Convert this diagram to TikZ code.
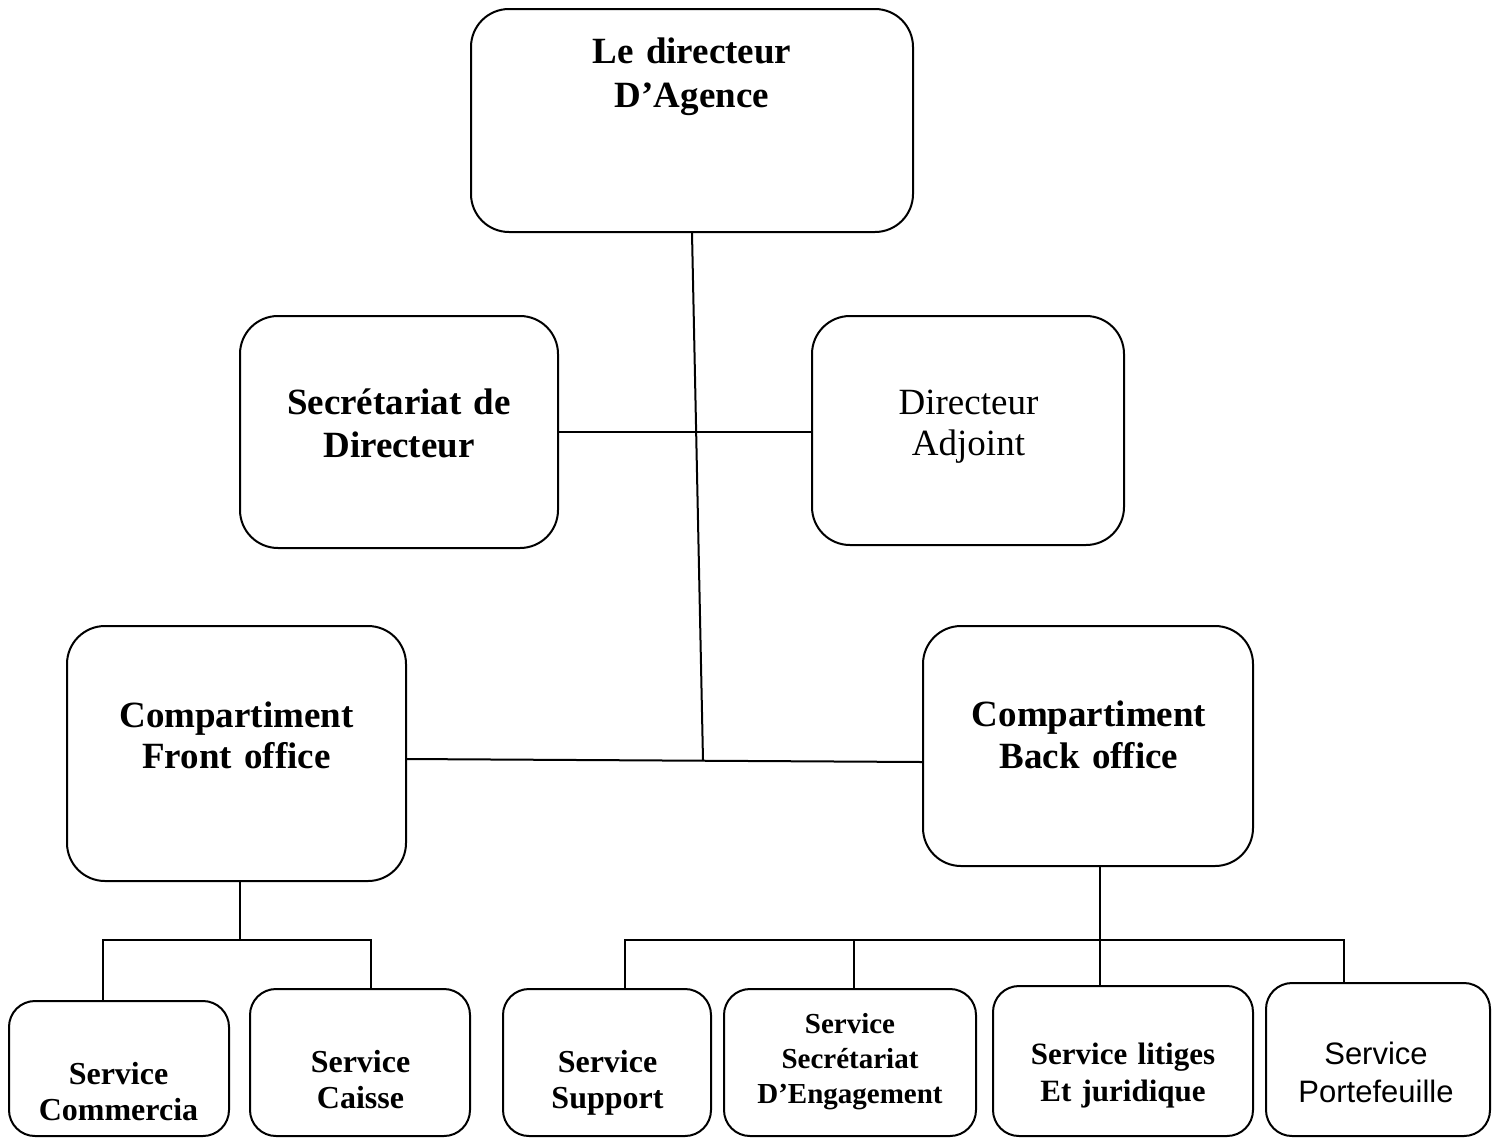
\documentclass[tikz,border=0pt]{standalone}
\usepackage{fontspec}
\setmainfont{Liberation Serif}
\newfontfamily\arialfont{Liberation Sans}
\begin{document}
\begin{tikzpicture}[x=1pt,y=-1pt,
  bigbox/.style={draw,line width=2pt,rounded corners=38pt,inner sep=0pt},
  smallbox/.style={draw,line width=2pt,rounded corners=26pt,inner sep=0pt},
  lbl/.style={anchor=base,inner sep=0pt,align=center},
  conn/.style={line width=2pt}]
\useasboundingbox (0,0) rectangle (1498,1138);
\fill[white] (0,0) rectangle (1498,1138);

% boxes
\node[bigbox,minimum width=442pt,minimum height=223pt] (top) at (692,120.5) {};
\node[bigbox,minimum width=318pt,minimum height=232pt] (sec) at (399,432) {};
\node[bigbox,minimum width=312pt,minimum height=229pt] (adj) at (968,430.5) {};
\node[bigbox,minimum width=339pt,minimum height=255pt] (front) at (236.5,753.5) {};
\node[bigbox,minimum width=330pt,minimum height=240pt] (back) at (1088,746) {};
\node[smallbox,minimum width=220pt,minimum height=135pt] (comm) at (119,1068.5) {};
\node[smallbox,minimum width=220pt,minimum height=147pt] (caisse) at (360,1062.5) {};
\node[smallbox,minimum width=208pt,minimum height=147pt] (support) at (607,1062.5) {};
\node[smallbox,minimum width=252pt,minimum height=147pt] (eng) at (850,1062.5) {};
\node[smallbox,minimum width=260pt,minimum height=150pt] (lit) at (1123,1061) {};
\node[smallbox,minimum width=224pt,minimum height=153pt] (port) at (1378,1059.5) {};

% texts
\node[lbl,text width=430pt,font=\fontsize{37}{44}\selectfont\bfseries] (ttop) at (692,63) {Le directeur\\D’Agence};
\node[lbl,text width=310pt,font=\fontsize{37}{43}\selectfont\bfseries] (tsec) at (399,414) {Secrétariat de\\Directeur};
\node[lbl,text width=300pt,font=\fontsize{37}{41}\selectfont] (tadj) at (968.5,414) {Directeur\\Adjoint};
\node[lbl,text width=330pt,font=\fontsize{37}{41}\selectfont\bfseries] (tfront) at (236.5,727) {Compartiment\\Front office};
\node[lbl,text width=320pt,font=\fontsize{37}{42}\selectfont\bfseries] (tback) at (1089,726) {Compartiment\\Back office};
\node[lbl,text width=215pt,font=\fontsize{32}{36}\selectfont\bfseries] (tcomm) at (118.5,1084) {Service\\Commercia};
\node[lbl,text width=215pt,font=\fontsize{32}{36}\selectfont\bfseries] (tcaisse) at (360.5,1072) {Service\\Caisse};
\node[lbl,text width=205pt,font=\fontsize{32}{36}\selectfont\bfseries] (tsupport) at (607.5,1072) {Service\\Support};
\node[lbl,text width=248pt,font=\fontsize{29}{35}\selectfont\bfseries] (teng) at (850,1033) {Service\\Secrétariat\\D’Engagement};
\node[lbl,text width=255pt,font=\fontsize{31}{37}\selectfont\bfseries] (tlit) at (1123,1064) {Service litiges\\Et juridique};
\node[lbl,text width=220pt,font=\fontsize{31}{38}\selectfont\arialfont] (tport) at (1376,1064) {Service\\Portefeuille};

% connectors
\coordinate (junction) at (703,760.5);
\draw[conn] (top.south) -- (junction);
\draw[conn] (sec.east) -- (sec.east -| adj.west);
\draw[conn] ([yshift=-5.5pt]front.east) -- ([yshift=-16pt]back.west);

\coordinate (busL) at (240,940);
\draw[conn] ([xshift=3.5pt]front.south) -- (busL);
\draw[conn] ([xshift=-16pt]comm.north) |- (busL) -| ([xshift=11pt]caisse.north);

\coordinate (busR) at (1100,940);
\draw[conn] ([xshift=12pt]back.south) -- ([xshift=-23pt]lit.north);
\draw[conn] ([xshift=18pt]support.north) |- (busR) -| ([xshift=-34pt]port.north);
\draw[conn] ([xshift=4pt]eng.north) -- ([xshift=4pt]eng.north |- busR);
\end{tikzpicture}
\end{document}
